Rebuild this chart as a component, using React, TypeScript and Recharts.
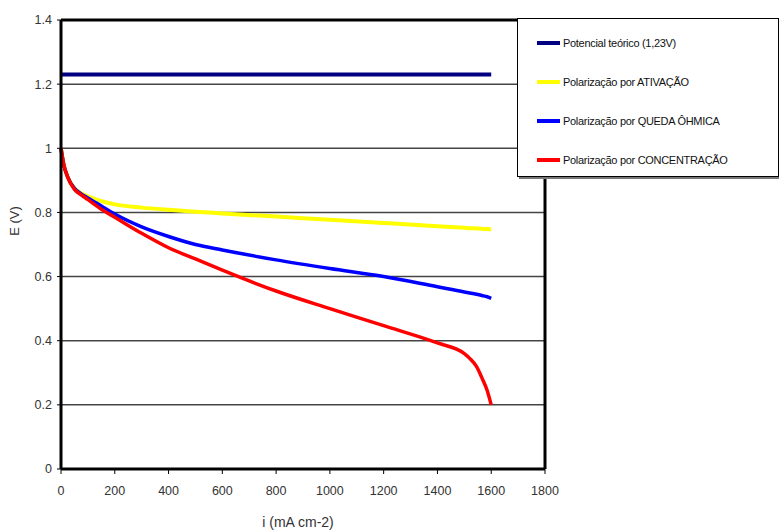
import { CartesianGrid, Line, LineChart, ReferenceLine, XAxis, YAxis } from "recharts";

const current = [0, 10, 25, 50, 75, 100, 150, 200, 300, 400, 500, 600, 800, 1000, 1200, 1400, 1500, 1520, 1545, 1565, 1585, 1600];
const activation = [1.0, 0.95, 0.91, 0.875, 0.86, 0.85, 0.835, 0.825, 0.815, 0.808, 0.802, 0.797, 0.787, 0.777, 0.767, 0.757, 0.752, 0.751, 0.75, 0.749, 0.748, 0.747];
const ohmic = [1.0, 0.95, 0.91, 0.875, 0.858, 0.845, 0.82, 0.795, 0.755, 0.725, 0.7, 0.683, 0.652, 0.625, 0.6, 0.568, 0.552, 0.549, 0.545, 0.541, 0.537, 0.532];
const concentration = [1.0, 0.95, 0.91, 0.872, 0.855, 0.84, 0.81, 0.785, 0.735, 0.69, 0.655, 0.62, 0.555, 0.5, 0.447, 0.393, 0.36, 0.345, 0.32, 0.285, 0.245, 0.2];
const theoI = [0, 1600];
const theoE = [1.23, 1.23];

const xTicks = [0, 200, 400, 600, 800, 1000, 1200, 1400, 1600, 1800];
const yTicks = [0, 0.2, 0.4, 0.6, 0.8, 1, 1.2, 1.4];

const seriesInfo = [
  { key: "theo", name: "Potencial teórico (1,23V)", color: "#000080" },
  { key: "act", name: "Polarização por ATIVAÇÃO", color: "#ffff00" },
  { key: "ohm", name: "Polarização por QUEDA ÔHMICA", color: "#0000ff" },
  { key: "conc", name: "Polarização por CONCENTRAÇÃO", color: "#ff0000" },
];

const data = current.map((i, k) => ({
  i,
  act: activation[k],
  ohm: ohmic[k],
  conc: concentration[k],
}));
const theoData = theoI.map((i, k) => ({ i, theo: theoE[k] }));

const font = "'Liberation Sans', Arial, sans-serif";

function LegendBox() {
  return (
    <div
      style={{
        position: "absolute",
        left: 517,
        top: 18,
        width: 262,
        height: 159,
        background: "#fff",
        border: "1px solid #000",
        boxSizing: "border-box",
        boxShadow: "2px 2px 0 #777",
        fontFamily: font,
        fontSize: 11,
        color: "#111",
        paddingTop: 4,
      }}
    >
      {seriesInfo.map((s) => (
        <div key={s.key} style={{ display: "flex", alignItems: "center", height: 39 }}>
          <span
            style={{
              display: "inline-block",
              width: 23,
              height: 4,
              background: s.color,
              marginLeft: 19,
              marginRight: 3,
            }}
          />
          <span style={{ letterSpacing: -0.3 }}>{s.name}</span>
        </div>
      ))}
    </div>
  );
}

export default function App() {
  return (
    <div style={{ position: "absolute", left: 0, top: 0, width: 779, height: 531, background: "#fff" }}>
      <LineChart
        width={779}
        height={531}
        margin={{ top: 20, right: 234, bottom: 32, left: 21 }}
      >
        <CartesianGrid vertical={false} stroke="#444" strokeWidth={1.5} />
        <XAxis
          dataKey="i"
          type="number"
          domain={[0, 1800]}
          ticks={xTicks}
          allowDuplicatedCategory={false}
          axisLine={{ stroke: "#000", strokeWidth: 3 }}
          tickLine={{ stroke: "#000" }}
          tickSize={5}
          tickMargin={12}
          height={30}
          tick={{ fill: "#333", fontSize: 12.5, fontFamily: font }}
          label={{
            content: () => (
              <text x={298} y={527} textAnchor="middle" fill="#333" fontSize={14} fontFamily={font}>
                i (mA cm-2)
              </text>
            ),
          }}
        />
        <YAxis
          type="number"
          domain={[0, 1.4]}
          ticks={yTicks}
          axisLine={{ stroke: "#000", strokeWidth: 3 }}
          tickLine={{ stroke: "#000" }}
          tickSize={4}
          tickMargin={5}
          width={40}
          tick={{ fill: "#333", fontSize: 12.5, fontFamily: font }}
          label={{
            content: () => (
              <text x={19} y={221} textAnchor="middle" transform="rotate(-90 19 221)" fill="#333" fontSize={13} fontFamily={font}>
                E  (V)
              </text>
            ),
          }}
        />
        <ReferenceLine y={1.4} stroke="#000" strokeWidth={3} />
        <ReferenceLine x={1800} stroke="#000" strokeWidth={3} />
        <Line data={theoData} dataKey="theo" stroke="#000080" strokeWidth={4} dot={false} isAnimationActive={false} />
        <Line data={data} dataKey="act" type="monotone" stroke="#ffff00" strokeWidth={4} dot={false} isAnimationActive={false} />
        <Line data={data} dataKey="ohm" type="monotone" stroke="#0000ff" strokeWidth={3.5} dot={false} isAnimationActive={false} />
        <Line data={data} dataKey="conc" type="monotone" stroke="#ff0000" strokeWidth={3.5} dot={false} isAnimationActive={false} />
      </LineChart>
      <LegendBox />
    </div>
  );
}
